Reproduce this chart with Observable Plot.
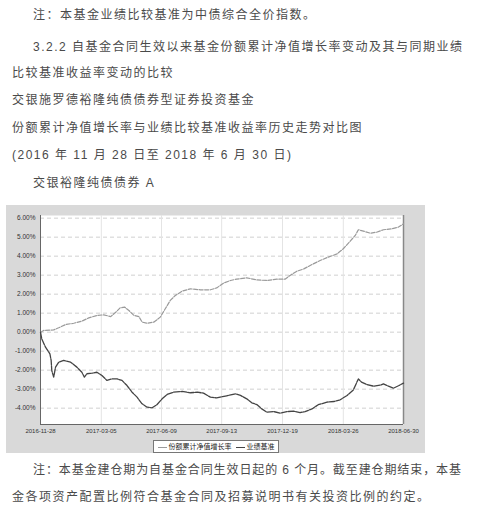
<!DOCTYPE html>
<html>
<head>
<meta charset="utf-8">
<script src="https://cdn.jsdelivr.net/npm/d3@7"></script>
<script src="https://cdn.jsdelivr.net/npm/@observablehq/plot@0.6"></script>
<style>
  html, body { margin: 0; padding: 0; background: #fff; }
  #page { position: relative; width: 482px; height: 517px; overflow: hidden;
          font-family: "Liberation Sans", "Noto Sans CJK SC", sans-serif; color: #4a4a4a; }
  .t { position: absolute; font-size: 12px; line-height: 16px; letter-spacing: 1.5px; white-space: nowrap; }
  #chart { position: absolute; left: 6px; top: 205px; }
  #legend { position: absolute; left: 153px; top: 440px; width: 124px; height: 11px;
            background: #fff; border: 1px solid #777; font-size: 7px; line-height: 11px;
            display: flex; align-items: center; justify-content: center; gap: 4px; color: #222; white-space: nowrap; }
  .sw { display: inline-block; width: 9px; height: 0; border-top: 1.3px solid; margin-right: 2px; vertical-align: middle; }
</style>
</head>
<body>
<div id="page">
  <div class="t" style="left:33px;top:7px">注：本基金业绩比较基准为中债综合全价指数。</div>
  <div class="t" style="left:33px;top:39px">3.2.2 自基金合同生效以来基金份额累计净值增长率变动及其与同期业绩</div>
  <div class="t" style="left:12px;top:65px">比较基准收益率变动的比较</div>
  <div class="t" style="left:12px;top:92px">交银施罗德裕隆纯债债券型证券投资基金</div>
  <div class="t" style="left:12px;top:120px">份额累计净值增长率与业绩比较基准收益率历史走势对比图</div>
  <div class="t" style="left:12px;top:147px">(2016 年 11 月 28 日至 2018 年 6 月 30 日)</div>
  <div class="t" style="left:33px;top:175px">交银裕隆纯债债券 A</div>
  <div id="chart"></div>
  <div id="legend"><span><span class="sw" style="border-color:#9a9a9a"></span>份额累计净值增长率</span><span><span class="sw" style="border-color:#444"></span>业绩基准</span></div>
  <div class="t" style="left:33px;top:462px;letter-spacing:0.9px">注：本基金建仓期为自基金合同生效日起的 6 个月。截至建仓期结束，本基</div>
  <div class="t" style="left:12px;top:489px">金各项资产配置比例符合基金合同及招募说明书有关投资比例的约定。</div>
</div>
<script>
// Fund cumulative NAV growth (%)
const fundDates = ["2016-11-28","2016-12-03","2016-12-19","2016-12-27","2017-01-07","2017-01-20","2017-02-02","2017-02-13","2017-02-26","2017-03-09","2017-03-20","2017-03-28","2017-04-04","2017-04-11","2017-04-18","2017-04-26","2017-05-04","2017-05-09","2017-05-17","2017-05-28","2017-06-07","2017-06-15","2017-06-23","2017-07-01","2017-07-12","2017-07-25","2017-08-10","2017-08-26","2017-09-05","2017-09-16","2017-09-27","2017-10-07","2017-10-23","2017-11-08","2017-11-24","2017-12-10","2017-12-23","2017-12-31","2018-01-11","2018-01-22","2018-02-04","2018-02-17","2018-03-02","2018-03-16","2018-03-26","2018-04-06","2018-04-14","2018-04-19","2018-04-27","2018-05-08","2018-05-18","2018-05-29","2018-06-11","2018-06-22","2018-06-30"];
const fundValues = [0,0.09,0.12,0.23,0.40,0.47,0.58,0.75,0.88,0.91,0.82,1.05,1.28,1.32,1.14,0.88,0.82,0.53,0.47,0.53,0.79,1.23,1.67,1.93,2.16,2.28,2.23,2.23,2.33,2.58,2.72,2.79,2.86,2.75,2.72,2.79,2.79,2.98,3.21,3.33,3.56,3.77,3.95,4.12,4.39,4.79,5.09,5.39,5.32,5.21,5.26,5.39,5.44,5.53,5.70];
// Benchmark return (%)
const benchDates = ["2016-11-28","2016-11-30","2016-12-06","2016-12-13","2016-12-15","2016-12-16","2016-12-19","2016-12-22","2016-12-27","2017-01-04","2017-01-15","2017-01-25","2017-02-02","2017-02-06","2017-02-10","2017-02-18","2017-02-26","2017-03-06","2017-03-14","2017-03-22","2017-03-30","2017-04-07","2017-04-15","2017-04-23","2017-05-01","2017-05-09","2017-05-17","2017-05-25","2017-06-02","2017-06-10","2017-06-18","2017-06-28","2017-07-12","2017-07-25","2017-08-05","2017-08-15","2017-08-26","2017-09-05","2017-09-21","2017-10-05","2017-10-13","2017-10-23","2017-10-31","2017-11-08","2017-11-16","2017-11-24","2017-12-05","2017-12-15","2017-12-26","2018-01-06","2018-01-16","2018-01-24","2018-02-04","2018-02-14","2018-02-28","2018-03-11","2018-03-21","2018-04-01","2018-04-11","2018-04-19","2018-04-24","2018-05-02","2018-05-13","2018-05-24","2018-05-29","2018-06-06","2018-06-14","2018-06-22","2018-06-30"];
const benchValues = [0,-0.35,-0.79,-1.14,-1.49,-2.02,-2.37,-1.84,-1.58,-1.49,-1.58,-1.84,-2.11,-2.37,-2.19,-2.16,-2.11,-2.28,-2.54,-2.46,-2.46,-2.54,-2.81,-3.16,-3.42,-3.77,-3.95,-3.98,-3.81,-3.51,-3.28,-3.16,-3.12,-3.19,-3.16,-3.21,-3.42,-3.46,-3.35,-3.25,-3.33,-3.51,-3.72,-3.81,-4.04,-4.21,-4.18,-4.26,-4.18,-4.16,-4.23,-4.18,-4.04,-3.82,-3.68,-3.65,-3.56,-3.33,-3.04,-2.46,-2.63,-2.75,-2.84,-2.79,-2.72,-2.84,-2.95,-2.82,-2.68];
// Axis ticks
const yTicks = [6,5,4,3,2,1,0,-1,-2,-3,-4];
const xTickLabels = ["2016-11-28","2017-03-05","2017-06-09","2017-09-13","2017-12-19","2018-03-26","2018-06-30"];

const parse = d3.utcParse("%Y-%m-%d");
const fund = fundDates.map((d, i) => ({date: parse(d), value: fundValues[i]}));
const bench = benchDates.map((d, i) => ({date: parse(d), value: benchValues[i]}));
const xTicks = xTickLabels.map(parse);
const yDomain = [-4.86, 6.14];

const chart = Plot.plot({
  width: 419,
  height: 248,
  marginLeft: 34,
  marginRight: 22,
  marginTop: 10,
  marginBottom: 29,
  style: {background: "#d9d9d9", fontFamily: "Liberation Sans, Arial, sans-serif", color: "#333", overflow: "visible"},
  x: {type: "utc", domain: [xTicks[0], xTicks[xTicks.length - 1]], label: null},
  y: {domain: yDomain, label: null},
  marks: [
    Plot.frame({fill: "white", stroke: null}),
    Plot.gridY(yTicks, {stroke: "#d0d0d0", strokeOpacity: 1, strokeDasharray: "4,3"}),
    Plot.gridX(xTicks.slice(1, -1), {stroke: "#e4e4e4", strokeOpacity: 1}),
    Plot.axisY(yTicks, {tickSize: 0, tickPadding: 5, fontSize: 6.5, fill: "#333", label: null, tickFormat: d => d.toFixed(2) + "%"}),
    Plot.axisX(xTicks, {tickSize: 0, tickPadding: 4, fontSize: 6, fill: "#333", label: null, tickFormat: d3.utcFormat("%Y-%m-%d")}),
    Plot.ruleX([xTicks[0]], {stroke: "#666", strokeWidth: 1}),
    Plot.ruleX([xTicks[xTicks.length - 1]], {stroke: "#888", strokeWidth: 1.5}),
    Plot.ruleY([yDomain[0]], {stroke: "#666", strokeWidth: 1}),
    Plot.lineY(fund, {x: "date", y: "value", stroke: "#9a9a9a", strokeWidth: 1.2, strokeDasharray: "4,1.5"}),
    Plot.lineY(bench, {x: "date", y: "value", stroke: "#444", strokeWidth: 1.3, strokeDasharray: "6,1.2"})
  ]
});
document.getElementById("chart").appendChild(chart);
</script>
</body>
</html>
